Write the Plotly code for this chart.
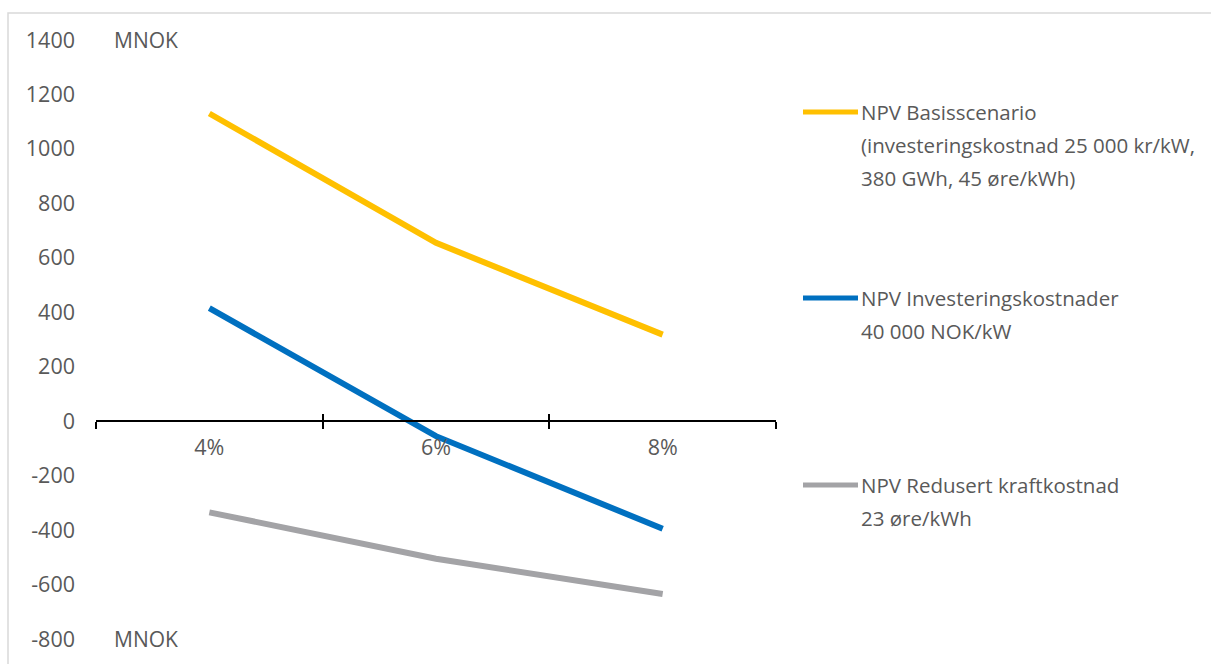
import plotly.graph_objects as go

# Discount rates (x categories) and NPV in MNOK for each scenario
rates = ["4%", "6%", "8%"]
npv_basis = [1130, 655, 318]
npv_invest = [415, -55, -395]
npv_power = [-335, -505, -635]

series_names = [
    ["NPV Basisscenario", "(investeringskostnad 25 000 kr/kW,", "380 GWh, 45 øre/kWh)"],
    ["NPV Investeringskostnader", "40 000 NOK/kW"],
    ["NPV Redusert kraftkostnad", "23 øre/kWh"],
]
series_values = [npv_basis, npv_invest, npv_power]
series_colors = ["#FFC000", "#0070C0", "#A3A3A6"]

y_ticks = list(range(-800, 1401, 200))
y_tick_labels = [str(v) for v in y_ticks]  # plain hyphen for negatives
y_min, y_max = -800, 1400
unit_label = "MNOK"

W, H = 1211, 664
L, R, T, B = 96, 435, 40, 25
plot_w, plot_h = W - L - R, H - T - B
TEXT = "#595959"
FONT = "Open Sans"


def px_to_paper_x(px):
    return (px - L) / plot_w


def px_to_paper_y(py):
    return (H - B - py) / plot_h


fig = go.Figure()

for vals, color, name in zip(series_values, series_colors, series_names):
    fig.add_trace(go.Scatter(
        x=rates, y=vals, mode="lines", name=name[0],
        line=dict(color=color, width=6),
        showlegend=False, hoverinfo="x+y",
    ))

# helper trace so the overlay axis knows the categories (draws nothing)
fig.add_trace(go.Scatter(
    x=rates, y=[None] * len(rates), xaxis="x2", mode="lines",
    showlegend=False, hoverinfo="skip",
))

zero_pos = (0 - y_min) / (y_max - y_min)

fig.update_layout(
    width=W, height=H,
    margin=dict(l=L, r=R, t=T, b=B),
    paper_bgcolor="white", plot_bgcolor="white",
    font=dict(family=FONT, color=TEXT),
    xaxis=dict(
        type="category", categoryorder="array", categoryarray=rates,
        range=[-0.5, 2.5], anchor="free", position=zero_pos,
        showline=True, linecolor="black", linewidth=1.5,
        ticks="outside", tickson="boundaries", ticklen=7,
        tickwidth=1.5, tickcolor="black",
        showgrid=False, zeroline=False,
        tickfont=dict(size=21.5, color=TEXT, family=FONT),
        ticklabelstandoff=7,
    ),
    xaxis2=dict(
        type="category", categoryorder="array", categoryarray=rates,
        range=[-0.5, 2.5], anchor="free", position=zero_pos,
        overlaying="x", showline=False,
        ticks="inside", tickson="boundaries", ticklen=7,
        tickwidth=1.5, tickcolor="black",
        showticklabels=False, showgrid=False, zeroline=False,
    ),
    yaxis=dict(
        range=[y_min, y_max], tickvals=y_ticks, ticktext=y_tick_labels,
        showline=False, showgrid=False, zeroline=False, ticks="",
        tickfont=dict(size=21.5, color=TEXT, family=FONT),
        ticklabelstandoff=20,
    ),
)

# chart frame
fig.add_shape(type="rect", xref="paper", yref="paper",
              x0=px_to_paper_x(8), x1=px_to_paper_x(W + 10),
              y0=px_to_paper_y(H + 10), y1=px_to_paper_y(13),
              line=dict(color="#D9D9D9", width=1.5), fillcolor="rgba(0,0,0,0)",
              layer="below")

# unit labels at top and bottom of the value axis
for yv in (y_max, y_min):
    fig.add_annotation(text=unit_label, xref="paper", yref="y",
                       x=px_to_paper_x(112), y=yv, xanchor="left", yanchor="middle",
                       showarrow=False, font=dict(size=21, color=TEXT, family=FONT))

# legend: swatch + multi-line label for each series
legend_tops = [112, 298, 485]
line_gap = 33
for top, color, lines in zip(legend_tops, series_colors, series_names):
    fig.add_shape(type="line", xref="paper", yref="paper",
                  x0=px_to_paper_x(803), x1=px_to_paper_x(858),
                  y0=px_to_paper_y(top), y1=px_to_paper_y(top),
                  line=dict(color=color, width=5))
    for i, txt in enumerate(lines):
        fig.add_annotation(text=txt, xref="paper", yref="paper",
                           x=px_to_paper_x(859), y=px_to_paper_y(top + i * line_gap),
                           xanchor="left", yanchor="middle", showarrow=False,
                           font=dict(size=20.5, color=TEXT, family=FONT))

fig.write_html("out.html")
